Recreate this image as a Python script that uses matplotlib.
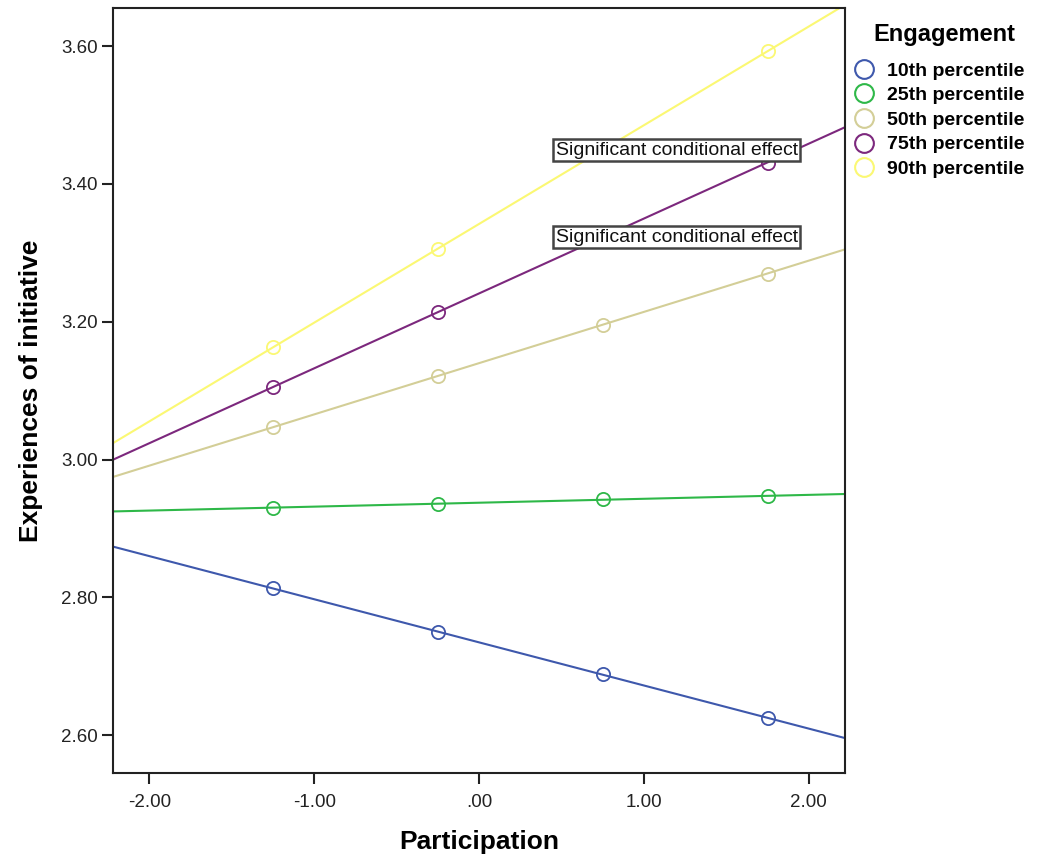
import numpy as np
import matplotlib
matplotlib.use("Agg")
import matplotlib.pyplot as plt
from matplotlib.lines import Line2D
from matplotlib.ticker import FuncFormatter, MultipleLocator

# ---- data ----
participation = [-1.25, -0.25, 0.75, 1.75]
series_names = ["10th percentile", "25th percentile", "50th percentile",
                "75th percentile", "90th percentile"]
p10 = [2.813, 2.750, 2.688, 2.625]
p25 = [2.930, 2.936, 2.942, 2.947]
p50 = [3.047, 3.121, 3.196, 3.270]
p75 = [3.105, 3.214, 3.323, 3.431]
p90 = [3.163, 3.306, 3.449, 3.593]
series_values = [p10, p25, p50, p75, p90]
colors = ["#3E58AC", "#2EB848", "#D3CE97", "#7C287D", "#FBF873"]
legend_title = "Engagement"
annot_text = "Significant conditional effect"
annot_series = [4, 3]   # boxes sit on the 0.75 point of these series
annot_index = 2

plt.rcParams['font.family'] = ['Liberation Sans', 'DejaVu Sans']

fig = plt.figure(figsize=(10.4, 8.58), dpi=100)
ax = fig.add_axes([113/1040, 1-773/858, (845-113)/1040, (773-8.3)/858])

xlim = (-2.22, 2.22)
ylim = (2.545, 3.655)
ax.set_xlim(*xlim)
ax.set_ylim(*ylim)

x = np.array(participation)
for vals, c in zip(series_values, colors):
    y = np.array(vals)
    slope, icpt = np.polyfit(x, y, 1)
    ax.axline((0, icpt), slope=slope, color=c, lw=1.5, zorder=2)
    ax.plot(x, y, linestyle='none', marker='o', markersize=9.5,
            markerfacecolor='none', markeredgecolor=c, markeredgewidth=1.3,
            zorder=3)

for si in annot_series:
    yv = series_values[si][annot_index]
    ax.text(0.465, yv, annot_text, fontsize=14, ha='left', va='center',
            color='#111111', zorder=5,
            bbox=dict(boxstyle='square,pad=0.12', facecolor='white',
                      edgecolor='#444444', linewidth=1.8))

ax.xaxis.set_major_locator(MultipleLocator(1.0))
ax.yaxis.set_major_locator(MultipleLocator(0.2))

def fmt(v, pos):
    s = f"{v:.2f}"
    if s in ("0.00", "-0.00"):
        s = ".00"
    return s

ax.xaxis.set_major_formatter(FuncFormatter(fmt))
ax.yaxis.set_major_formatter(FuncFormatter(fmt))
ax.tick_params(axis='both', direction='out', length=8, width=1.5,
               labelsize=13.5, colors='#222222')
ax.tick_params(axis='x', pad=7)
ax.tick_params(axis='y', pad=3)
for sp in ax.spines.values():
    sp.set_linewidth(1.5)
    sp.set_color('#222222')

ax.set_xlabel("Participation", fontsize=19, fontweight='bold', labelpad=14)
ax.set_ylabel("Experiences of initiative", fontsize=19, fontweight='bold',
              labelpad=13)

handles = [Line2D([], [], linestyle='none', marker='o', markersize=13.5,
                  markerfacecolor='none', markeredgecolor=c,
                  markeredgewidth=1.5) for c in colors]
leg = fig.legend(handles, series_names,
                 loc='upper left', bbox_to_anchor=(852/1040, 1-62/858),
                 frameon=False, prop={'weight': 'bold', 'size': 14},
                 handletextpad=0.6, labelspacing=0.36, borderpad=0,
                 handlelength=1.2, borderaxespad=0)
fig.text(944/1040, 1-34/858, legend_title, fontsize=17, fontweight='bold',
         ha='center', va='center')

fig.savefig("out.png", dpi=100)
